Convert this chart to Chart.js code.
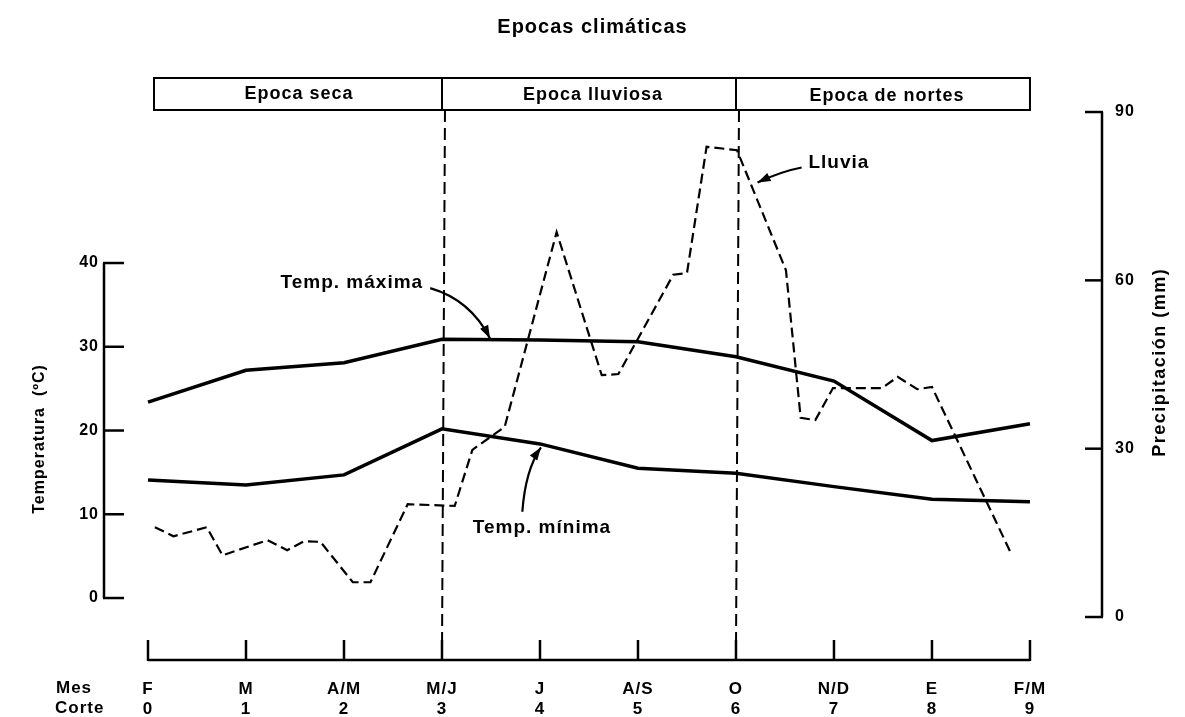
<!DOCTYPE html>
<html>
<head>
<meta charset="utf-8">
<script src="https://cdn.jsdelivr.net/npm/chart.js@4/dist/chart.umd.min.js"></script>
<style>
  html, body { margin: 0; padding: 0; background: #fff; }
  canvas { display: block; }
</style>
</head>
<body>
<canvas id="chart" width="1185" height="717"></canvas>
<script>
// x axis: corte 0..9 and the month under each one
const corteLabels = ['0', '1', '2', '3', '4', '5', '6', '7', '8', '9'];
const mesLabels = ['F', 'M', 'A/M', 'M/J', 'J', 'A/S', 'O', 'N/D', 'E', 'F/M'];

// temperatures (ºC) at each corte
const tempMax = [23.4, 27.2, 28.1, 30.9, 30.8, 30.6, 28.8, 25.9, 18.8, 20.8];
const tempMin = [14.1, 13.5, 14.7, 20.2, 18.4, 15.5, 14.9, 13.3, 11.8, 11.5];

// rain (mm)
const rainX = [0.07, 0.26, 0.60, 0.76, 1.22, 1.42, 1.59, 1.76, 2.09, 2.27, 2.65, 3.13, 3.31, 3.64,
  4.17, 4.63, 4.80, 5.36, 5.50, 5.70, 6.01, 6.51, 6.66, 6.81, 6.99, 7.49, 7.65, 7.85, 8.00, 8.80];
const rainMm = [16.0, 14.4, 16.0, 11.0, 13.7, 11.9, 13.5, 13.4, 6.2, 6.2, 20.1, 19.8, 29.8, 33.9,
  68.6, 43.1, 43.3, 61.0, 61.3, 83.8, 83.2, 61.8, 35.5, 35.1, 40.8, 40.8, 42.8, 40.6, 41.0, 11.6];

// seasons band on top
const seasonNames = ['Epoca seca', 'Epoca lluviosa', 'Epoca de nortes'];
const seasonBounds = [0, 3, 6, 9];

const tempTicks = [0, 10, 20, 30, 40];
const rainTicks = [0, 30, 60, 90];

// callouts: text spot, arrow start, bend, tip (x in corte, y in ºC)
const callouts = [
  { text: 'Temp. máxima', at: [2.08, 37.6], from: [2.88, 37.0], via: [3.29, 35.6], to: [3.49, 31.0] },
  { text: 'Temp. mínima', at: [4.02, 8.4], from: [3.82, 10.3], via: [3.85, 15.3], to: [4.01, 18.0] },
  { text: 'Lluvia', at: [7.05, 52.0], from: [6.67, 51.4], via: [6.45, 50.9], to: [6.22, 49.6] }
];

const FONT = '"Liberation Sans", Arial, Helvetica, sans-serif';
Chart.defaults.color = '#000';
Chart.defaults.font.family = FONT;

const tempData = (arr) => arr.map((v, i) => ({ x: i, y: v }));

// the scanned lettering is wide, so space all text out a little
const spacing = {
  id: 'spacing',
  beforeDraw(chart) { chart.ctx.letterSpacing = '1px'; }
};

const decorations = {
  id: 'decorations',
  beforeDatasetsDraw(chart) {
    const { ctx, chartArea, scales: { x, y, y1 } } = chart;
    ctx.save();
    ctx.letterSpacing = '1px';
    ctx.strokeStyle = '#000';
    ctx.fillStyle = '#000';

    // season box
    const top = chartArea.top - 32, bot = chartArea.top;
    ctx.lineWidth = 2;
    ctx.strokeRect(x.getPixelForValue(seasonBounds[0]) + 6, top,
      x.getPixelForValue(seasonBounds[3]) - x.getPixelForValue(seasonBounds[0]) - 6, bot - top);
    ctx.font = 'bold 18px ' + FONT;
    ctx.textAlign = 'center';
    ctx.textBaseline = 'middle';
    for (let i = 0; i < seasonNames.length; i++) {
      const a = x.getPixelForValue(seasonBounds[i]), b = x.getPixelForValue(seasonBounds[i + 1]);
      if (i > 0) {
        ctx.beginPath(); ctx.moveTo(a, top); ctx.lineTo(a, bot); ctx.stroke();
      }
      ctx.fillText(seasonNames[i], (a + b) / 2 + 4, (top + bot) / 2 + i);
    }

    // dashed season boundaries
    ctx.setLineDash([12, 6]);
    ctx.lineWidth = 2;
    [seasonBounds[1], seasonBounds[2]].forEach(v => {
      const px = x.getPixelForValue(v);
      ctx.beginPath(); ctx.moveTo(px + 3, bot); ctx.lineTo(px, chartArea.bottom - 8); ctx.stroke();
    });
    ctx.setLineDash([]);

    // left axis
    ctx.lineWidth = 2.5;
    const lx = chartArea.left;
    ctx.beginPath();
    ctx.moveTo(lx, y.getPixelForValue(tempTicks[0]));
    ctx.lineTo(lx, y.getPixelForValue(tempTicks[tempTicks.length - 1]));
    ctx.stroke();
    tempTicks.forEach(v => {
      const py = y.getPixelForValue(v);
      ctx.beginPath(); ctx.moveTo(lx - 1, py); ctx.lineTo(lx + 20, py); ctx.stroke();
    });

    // right axis
    const rx = chartArea.right;
    ctx.beginPath();
    ctx.moveTo(rx, y1.getPixelForValue(rainTicks[0]));
    ctx.lineTo(rx, y1.getPixelForValue(rainTicks[rainTicks.length - 1]));
    ctx.stroke();
    rainTicks.forEach(v => {
      const py = y1.getPixelForValue(v);
      ctx.beginPath(); ctx.moveTo(rx + 1, py); ctx.lineTo(rx - 17, py); ctx.stroke();
    });

    // bottom axis
    const by = chartArea.bottom;
    ctx.beginPath();
    ctx.moveTo(x.getPixelForValue(0), by);
    ctx.lineTo(x.getPixelForValue(corteLabels.length - 1), by);
    ctx.stroke();
    corteLabels.forEach((c, i) => {
      const px = x.getPixelForValue(i);
      ctx.beginPath(); ctx.moveTo(px, by + 1); ctx.lineTo(px, by - 20); ctx.stroke();
    });

    // row headers
    ctx.font = 'bold 17px ' + FONT;
    ctx.textAlign = 'left';
    ctx.fillText('Mes', lx - 48, by + 28);
    ctx.fillText('Corte', lx - 49, by + 48);

    // axis titles
    ctx.textAlign = 'center';
    ctx.font = 'bold 16px ' + FONT;
    ctx.save();
    ctx.translate(40, y.getPixelForValue(19));
    ctx.rotate(-Math.PI / 2);
    ctx.fillText('Temperatura  (ºC)', 0, 0);
    ctx.restore();
    ctx.save();
    ctx.font = 'bold 18px ' + FONT;
    ctx.letterSpacing = '1.5px';
    ctx.translate(1160, y1.getPixelForValue(45.4));
    ctx.rotate(-Math.PI / 2);
    ctx.fillText('Precipitación (mm)', 0, 0);
    ctx.restore();

    // callouts
    ctx.font = 'bold 19px ' + FONT;
    ctx.lineWidth = 2.2;
    callouts.forEach(c => {
      const p = (pt) => [x.getPixelForValue(pt[0]), y.getPixelForValue(pt[1])];
      const [tx, ty] = p(c.at), [fx, fy] = p(c.from), [vx, vy] = p(c.via), [ex, ey] = p(c.to);
      ctx.fillText(c.text, tx, ty);
      ctx.beginPath(); ctx.moveTo(fx, fy); ctx.quadraticCurveTo(vx, vy, ex, ey); ctx.stroke();
      const ang = Math.atan2(ey - vy, ex - vx);
      ctx.beginPath();
      ctx.moveTo(ex, ey);
      ctx.lineTo(ex - 13 * Math.cos(ang) + 4.5 * Math.sin(ang), ey - 13 * Math.sin(ang) - 4.5 * Math.cos(ang));
      ctx.lineTo(ex - 13 * Math.cos(ang) - 4.5 * Math.sin(ang), ey - 13 * Math.sin(ang) + 4.5 * Math.cos(ang));
      ctx.closePath();
      ctx.fill();
    });
    ctx.restore();
  }
};

new Chart(document.getElementById('chart'), {
  type: 'line',
  data: {
    datasets: [
      {
        label: 'Temp. máxima',
        data: tempData(tempMax),
        yAxisID: 'y',
        borderColor: '#000',
        borderWidth: 3.5,
        pointRadius: 0,
        tension: 0
      },
      {
        label: 'Temp. mínima',
        data: tempData(tempMin),
        yAxisID: 'y',
        borderColor: '#000',
        borderWidth: 3.5,
        pointRadius: 0,
        tension: 0
      },
      {
        label: 'Lluvia',
        data: rainX.map((v, i) => ({ x: v, y: rainMm[i] })),
        yAxisID: 'y1',
        borderColor: '#000',
        borderWidth: 2.2,
        borderDash: [10, 5],
        pointRadius: 0,
        tension: 0
      }
    ]
  },
  options: {
    responsive: false,
    devicePixelRatio: 1,
    animation: false,
    layout: { padding: 0 },
    plugins: {
      legend: { display: false },
      tooltip: { enabled: false },
      title: {
        display: true,
        text: 'Epocas climáticas',
        font: { size: 20, weight: 'bold', lineHeight: 1.2 },
        color: '#000',
        padding: { top: 15, bottom: 71 }
      }
    },
    scales: {
      x: {
        type: 'linear',
        min: -0.449,
        max: 9.735,
        grid: { display: false, drawTicks: false },
        border: { display: false },
        afterBuildTicks: (s) => { s.ticks = corteLabels.map((c, i) => ({ value: i })); },
        afterFit: (s) => { s.height = 57; },
        ticks: {
          autoSkip: false,
          maxRotation: 0,
          padding: 19,
          font: { size: 17, weight: 'bold', lineHeight: 1.18 },
          callback: (v) => [mesLabels[v], corteLabels[v]]
        }
      },
      y: {
        position: 'left',
        min: -7.40,
        max: 58.27,
        grid: { display: false, drawTicks: false },
        border: { display: false },
        afterBuildTicks: (s) => { s.ticks = tempTicks.map(v => ({ value: v })); },
        afterFit: (s) => { s.width = 104; },
        ticks: { padding: 5, font: { size: 16, weight: 'bold' } }
      },
      y1: {
        position: 'right',
        min: -7.66,
        max: 90.36,
        grid: { display: false, drawTicks: false },
        border: { display: false },
        afterBuildTicks: (s) => { s.ticks = rainTicks.map(v => ({ value: v })); },
        afterFit: (s) => { s.width = 83; },
        ticks: { padding: 13, font: { size: 16, weight: 'bold' } }
      }
    }
  },
  plugins: [spacing, decorations]
});
</script>
</body>
</html>
